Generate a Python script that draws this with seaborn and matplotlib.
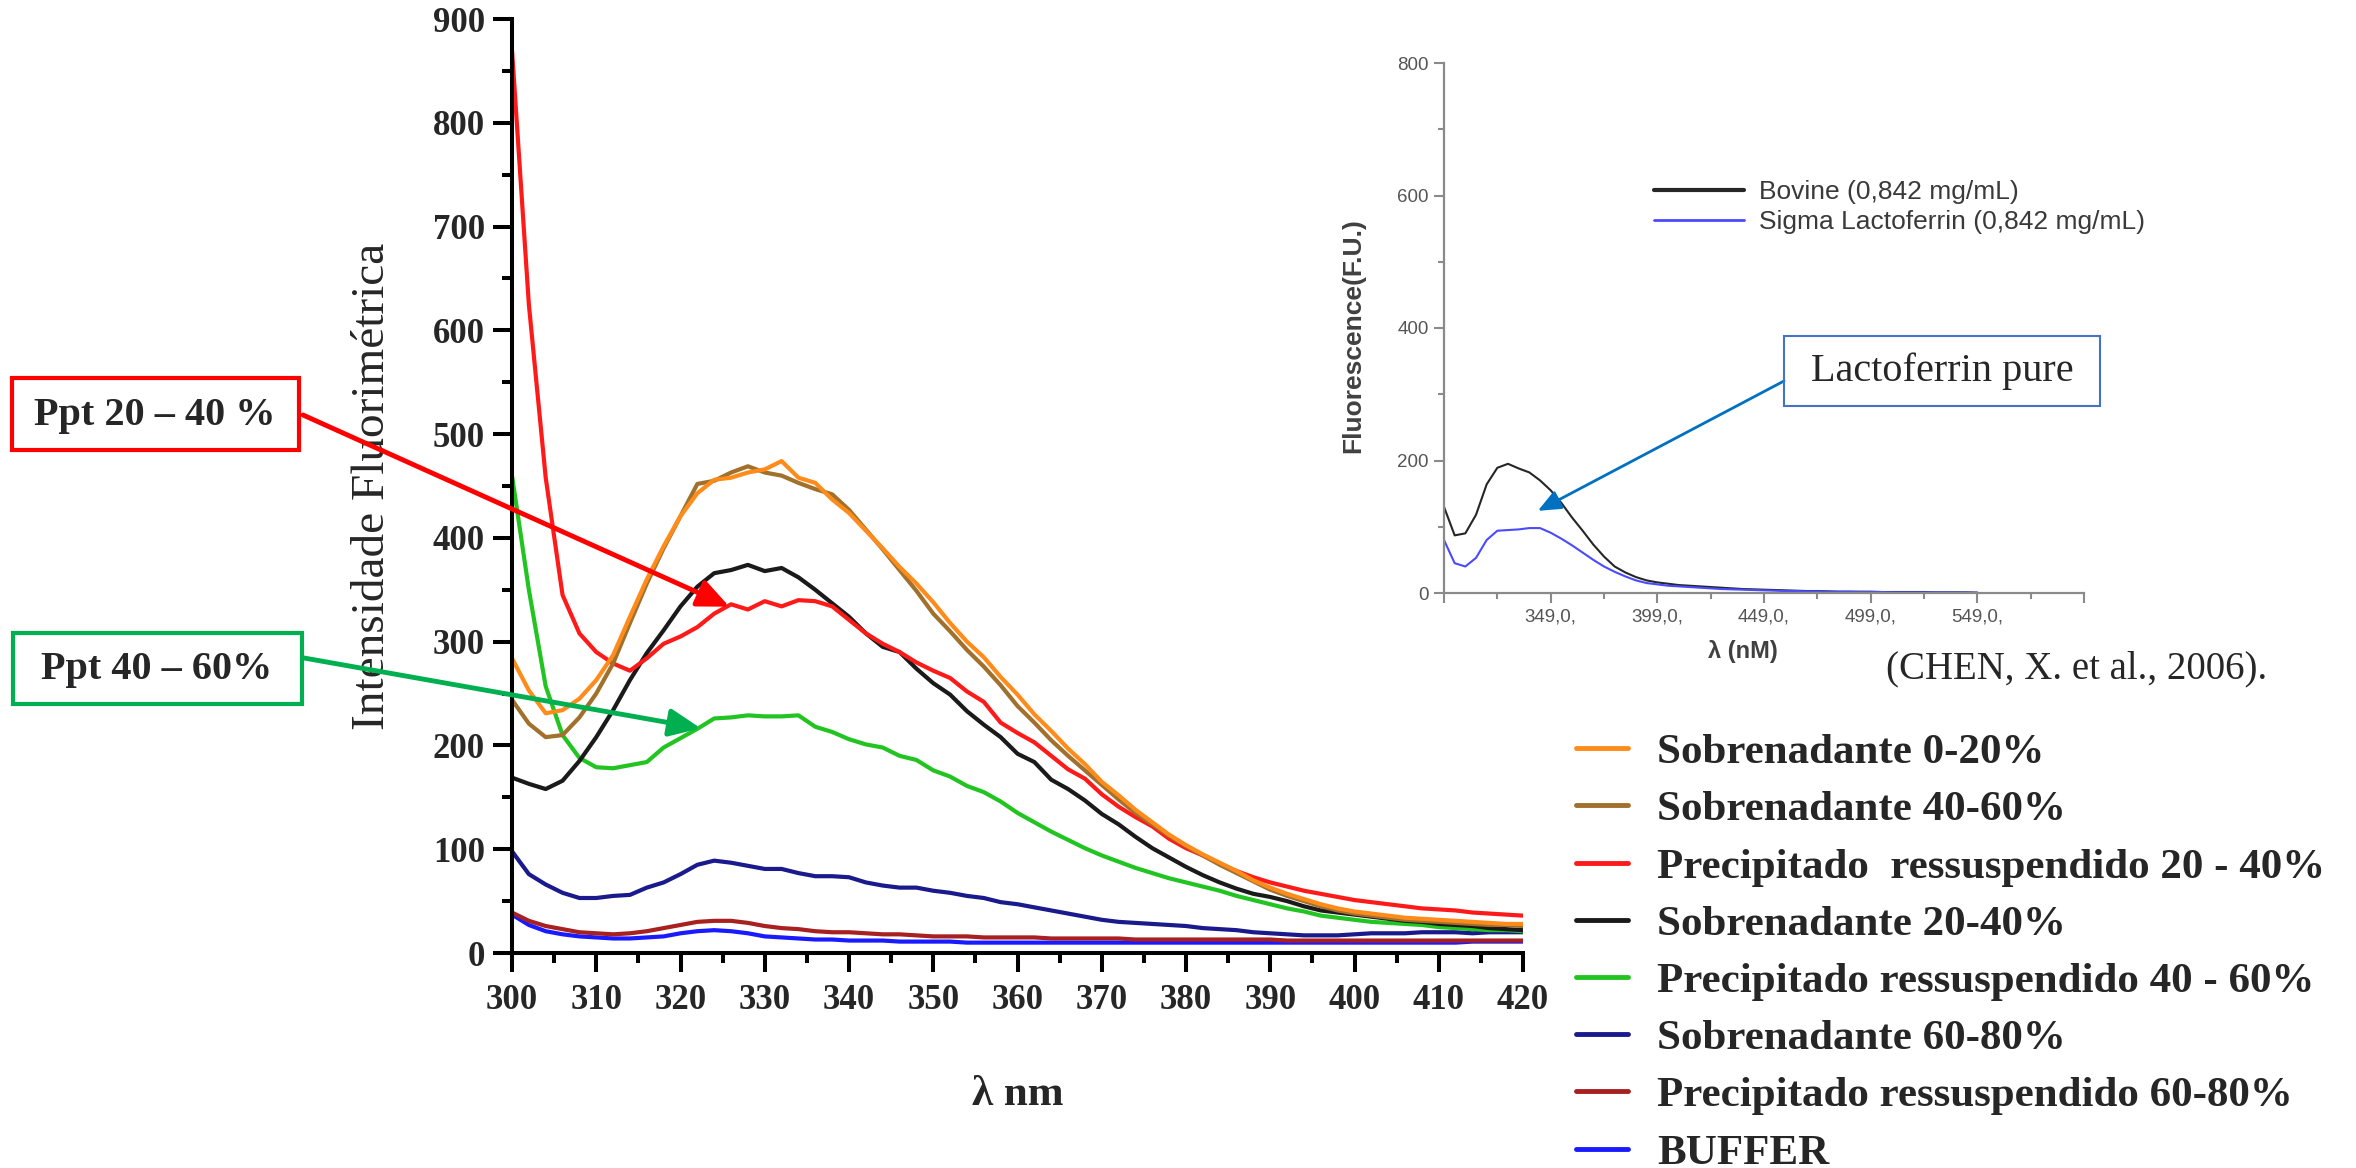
import matplotlib
matplotlib.use("Agg")
import matplotlib.pyplot as plt
import matplotlib.patches as mpatches
from matplotlib.ticker import MultipleLocator, FixedLocator
import pandas as pd
import seaborn as sns

W, H = 2356, 1168

# espectros principais (lambda a cada 2 nm)
comprimento = list(range(300, 421, 2))

sobrenadante_0_20 = [284, 253, 231, 234, 245, 263, 287, 324, 360, 392, 421, 443, 456, 458, 463, 466,
                     474, 458, 453, 437, 424, 407, 390, 372, 356, 338, 318, 300, 285, 266, 249, 230,
                     214, 197, 182, 165, 152, 138, 126, 114, 104, 95, 87, 79, 70, 63, 57, 52, 47, 43,
                     40, 38, 36, 34, 33, 32, 31, 30, 29, 28, 28]
sobrenadante_40_60 = [244, 221, 208, 210, 227, 250, 279, 318, 356, 390, 421, 452, 455, 463, 469, 463,
                      460, 453, 447, 442, 427, 408, 389, 369, 349, 327, 310, 292, 276, 258, 238, 222,
                      205, 190, 176, 162, 148, 135, 124, 113, 103, 94, 85, 77, 69, 61, 55, 50, 45, 41,
                      38, 36, 34, 32, 31, 30, 29, 28, 27, 27, 26]
precipitado_20_40 = [870, 625, 458, 345, 308, 290, 279, 272, 284, 298, 305, 314, 327, 336, 331, 339,
                     334, 340, 339, 334, 321, 308, 298, 290, 280, 272, 265, 252, 242, 222, 212, 203,
                     190, 177, 168, 153, 141, 131, 122, 110, 101, 94, 86, 79, 73, 68, 64, 60, 57, 54,
                     51, 49, 47, 45, 43, 42, 41, 39, 38, 37, 36]
sobrenadante_20_40 = [169, 163, 158, 166, 185, 208, 234, 263, 289, 311, 334, 353, 366, 369, 374, 368,
                      371, 362, 350, 337, 324, 308, 295, 290, 274, 260, 249, 233, 220, 208, 192, 184,
                      167, 158, 147, 134, 124, 112, 101, 92, 83, 75, 68, 62, 57, 54, 50, 45, 41, 39,
                      37, 35, 33, 31, 30, 28, 27, 26, 24, 23, 22]
precipitado_40_60 = [460, 350, 257, 210, 188, 179, 178, 181, 184, 198, 207, 216, 226, 227, 229, 228,
                     228, 229, 218, 213, 206, 201, 198, 190, 186, 176, 170, 161, 155, 146, 135, 126,
                     117, 109, 101, 94, 88, 82, 77, 72, 68, 64, 60, 55, 51, 47, 43, 40, 36, 34,
                     32, 30, 29, 28, 27, 25, 24, 23, 22, 22, 21]
sobrenadante_60_80 = [98, 76, 66, 58, 53, 53, 55, 56, 63, 68, 76, 85, 89, 87, 84, 81,
                      81, 77, 74, 74, 73, 68, 65, 63, 63, 60, 58, 55, 53, 49, 47, 44,
                      41, 38, 35, 32, 30, 29, 28, 27, 26, 24, 23, 22, 20, 19, 18, 17, 17, 17,
                      18, 19, 19, 19, 20, 20, 20, 19, 20, 20, 20]
precipitado_60_80 = [39, 31, 26, 23, 20, 19, 18, 19, 21, 24, 27, 30, 31, 31, 29, 26,
                     24, 23, 21, 20, 20, 19, 18, 18, 17, 16, 16, 16, 15, 15, 15, 15,
                     14, 14, 14, 14, 14, 13, 13, 13, 13, 13, 13, 13, 13, 13, 12, 12, 12, 12,
                     12, 12, 12, 12, 12, 12, 12, 12, 12, 12, 12]
buffer = [37, 27, 21, 18, 16, 15, 14, 14, 15, 16, 19, 21, 22, 21, 19, 16,
          15, 14, 13, 13, 12, 12, 12, 11, 11, 11, 11, 10, 10, 10, 10, 10,
          10, 10, 10, 10, 10, 10, 10, 10, 10, 10, 10, 10, 10, 10, 10, 10, 10, 10,
          10, 10, 10, 10, 10, 10, 10, 11, 11, 11, 11]

nomes = ["Sobrenadante 0-20%", "Sobrenadante 40-60%", "Precipitado  ressuspendido 20 - 40%",
         "Sobrenadante 20-40%", "Precipitado ressuspendido 40 - 60%", "Sobrenadante 60-80%",
         "Precipitado ressuspendido 60-80%", "BUFFER"]
cores = ["#ff8c1a", "#a0702c", "#ff1a1a", "#1a1a1a", "#22c422", "#1a1a8c", "#a82020", "#1a1aff"]
valores = [sobrenadante_0_20, sobrenadante_40_60, precipitado_20_40, sobrenadante_20_40,
           precipitado_40_60, sobrenadante_60_80, precipitado_60_80, buffer]

# espectro de referencia (CHEN et al., 2006), lambda a cada 5 nm
inset_lambda = list(range(299, 550, 5))
bovine = [130, 87, 90, 118, 164, 189, 195, 188, 182, 170, 155, 136, 114, 94, 73, 55, 40, 31, 24, 19,
          16, 14, 12, 11, 10, 9, 8, 7, 6, 5.5, 5, 4.5, 4, 3.5, 3, 3, 2.5, 2, 2, 2,
          2, 1.5, 1.5, 1.5, 1.5, 1.5, 1, 1, 1, 1, 0.5]
sigma = [80, 45, 40, 53, 80, 94, 95, 96, 98, 98, 91, 82, 72, 61, 50, 40, 32, 25, 19, 15,
         13, 11, 10, 9, 8, 7, 6, 5.5, 5, 4.5, 4, 3.5, 3, 3, 2.5, 2.5, 2, 2, 2, 1.5,
         1.5, 1.5, 1, 1, 1, 1, 1, 0.8, 0.8, 0.6, 0.5]

df = pd.concat([pd.DataFrame({"lambda": comprimento, "intensidade": v, "amostra": n})
                for n, v in zip(nomes, valores)], ignore_index=True)

sns.set_style("ticks")
plt.rcParams["font.family"] = ["Liberation Serif", "DejaVu Serif"]

fig = plt.figure(figsize=(W / 100, H / 100), dpi=100)
ax = fig.add_axes([512 / W, 1 - 953 / H, 1011 / W, 934 / H])

# desenha de tras para frente (laranja por cima)
for nome, cor in reversed(list(zip(nomes, cores))):
    sns.lineplot(data=df[df["amostra"] == nome], x="lambda", y="intensidade",
                 color=cor, lw=3, ax=ax, label=nome, errorbar=None)

ax.set_xlim(300, 420)
ax.set_ylim(0, 900)
xt = list(range(300, 421, 10))
ax.set_xticks(xt, [str(t) for t in xt], fontsize=25, fontweight="bold")
yt = list(range(0, 901, 100))
ax.set_yticks(yt, [str(t) for t in yt], fontsize=25, fontweight="bold")
ax.xaxis.set_minor_locator(MultipleLocator(5))
ax.yaxis.set_minor_locator(MultipleLocator(50))
ax.tick_params(which="major", length=13.5, width=2.9, color="black")
ax.tick_params(which="minor", length=7, width=2.9, color="black")
ax.tick_params(axis="x", which="major", pad=9)
ax.tick_params(axis="y", which="major", pad=6)
sns.despine(ax=ax)
for s in ["left", "bottom"]:
    ax.spines[s].set_linewidth(2.9)
    ax.spines[s].set_color("black")

ax.set_ylabel("Intensidade Fluorimétrica", fontsize=34, va="center")
ax.yaxis.set_label_coords(-0.1375, 0.5)
ax.set_xlabel("λ nm", fontsize=31, fontweight="bold", va="center")
ax.xaxis.set_label_coords(0.5, -0.152)

handles, labels = ax.get_legend_handles_labels()
ordem = [handles[labels.index(n)] for n in nomes]
leg = ax.legend(ordem, nomes, loc="upper left", bbox_to_anchor=(1576 / W, 1 - 733 / H),
                bbox_transform=fig.transFigure, frameon=False, borderpad=0, borderaxespad=0,
                handlelength=1.2, handletextpad=0.68, labelspacing=0.42,
                prop={"family": "Liberation Serif", "weight": "bold", "size": 31})
for ln in leg.get_lines():
    ln.set_linewidth(3.5)


def caixa(x0, y0, x1, y1, ec, lw):
    fig.add_artist(mpatches.Rectangle((x0 / W, 1 - y1 / H), (x1 - x0) / W, (y1 - y0) / H,
                                      transform=fig.transFigure, fill=False, ec=ec, lw=lw))


# caixas de destaque
caixa(12, 378, 299, 450, "#ff0000", 3)
fig.text(155 / W, 1 - 416 / H, "Ppt 20 – 40 %", ha="center", va="center", fontsize=29, fontweight="bold")
ax.annotate("", xy=(325.8, 333.7), xycoords="data", xytext=(303 / W, 1 - 415 / H),
            textcoords="figure fraction", annotation_clip=False,
            arrowprops=dict(arrowstyle="-|>,head_length=0.95,head_width=0.42", color="#ff0000",
                            lw=3.5, mutation_scale=20, shrinkA=0, shrinkB=0))

caixa(13, 633, 302, 704, "#00b050", 3)
fig.text(157 / W, 1 - 670 / H, "Ppt 40 – 60%", ha="center", va="center", fontsize=29, fontweight="bold")
ax.annotate("", xy=(322.4, 216.5), xycoords="data", xytext=(304 / W, 1 - 658 / H),
            textcoords="figure fraction", annotation_clip=False,
            arrowprops=dict(arrowstyle="-|>,head_length=0.95,head_width=0.42", color="#00b050",
                            lw=3.5, mutation_scale=20, shrinkA=0, shrinkB=0))

# grafico de referencia
ax_in = fig.add_axes([1444 / W, 1 - 593 / H, 640 / W, 530 / H])
ax_in.set_facecolor("none")
sns.lineplot(x=inset_lambda, y=bovine, color="#262626", lw=1.5, ax=ax_in,
             label="Bovine (0,842 mg/mL)", errorbar=None)
sns.lineplot(x=inset_lambda, y=sigma, color="#4a4aff", lw=1.5, ax=ax_in,
             label="Sigma Lactoferrin (0,842 mg/mL)", errorbar=None)
ax_in.set_xlim(299, 599)
ax_in.set_ylim(0, 800)
ax_in.set_xticks(list(range(299, 600, 50)), ["", "349,0,", "399,0,", "449,0,", "499,0,", "549,0,", ""],
                 fontsize=13.5, family="Liberation Sans", color="#555555")
ax_in.xaxis.set_minor_locator(FixedLocator(list(range(324, 600, 50))))
ax_in.set_yticks([0, 200, 400, 600, 800], ["0", "200", "400", "600", "800"],
                 fontsize=13.5, family="Liberation Sans", color="#555555")
ax_in.yaxis.set_minor_locator(FixedLocator([100, 300, 500, 700]))
ax_in.tick_params(which="major", length=7, width=1.5, color="#8a8a8a", pad=4)
ax_in.tick_params(which="minor", length=4, width=1.5, color="#8a8a8a")
sns.despine(ax=ax_in)
for s in ["left", "bottom"]:
    ax_in.spines[s].set_linewidth(1.6)
    ax_in.spines[s].set_color("#8a8a8a")
ax_in.set_ylabel("Fluorescence(F.U.)", fontsize=19, fontweight="bold", family="Liberation Sans",
                 color="#404040", va="center")
ax_in.yaxis.set_label_coords(-0.142, 0.485)
ax_in.set_xlabel("λ (nM)", fontsize=17, fontweight="bold", family="Liberation Sans",
                 color="#404040", va="center")
ax_in.xaxis.set_label_coords(0.467, -0.11)

leg_in = ax_in.legend(loc="upper left", bbox_to_anchor=(1654 / W, 1 - 180 / H),
                      bbox_transform=fig.transFigure, frameon=False, borderpad=0, borderaxespad=0,
                      handlelength=3.4, handletextpad=0.58, labelspacing=0.24,
                      prop={"family": "Liberation Sans", "size": 19})
for t in leg_in.get_texts():
    t.set_color("#3a3a3a")
for ln, lw in zip(leg_in.get_lines(), [3, 2]):
    ln.set_linewidth(lw)

caixa(1784, 336, 2100, 406, "#4472c4", 1.5)
fig.text(1942 / W, 1 - 371 / H, "Lactoferrin pure", ha="center", va="center", fontsize=29)
ax_in.annotate("", xy=(343, 124), xycoords="data", xytext=(1784 / W, 1 - 381 / H),
               textcoords="figure fraction", annotation_clip=False,
               arrowprops=dict(arrowstyle="-|>,head_length=0.7,head_width=0.3", color="#0070c0",
                               lw=2, mutation_scale=20, shrinkA=0, shrinkB=0))

fig.text(1886 / W, 1 - 669 / H, "(CHEN, X. et al., 2006).", ha="left", va="center", fontsize=28)

fig.savefig("out.png", dpi=100, facecolor="white")
